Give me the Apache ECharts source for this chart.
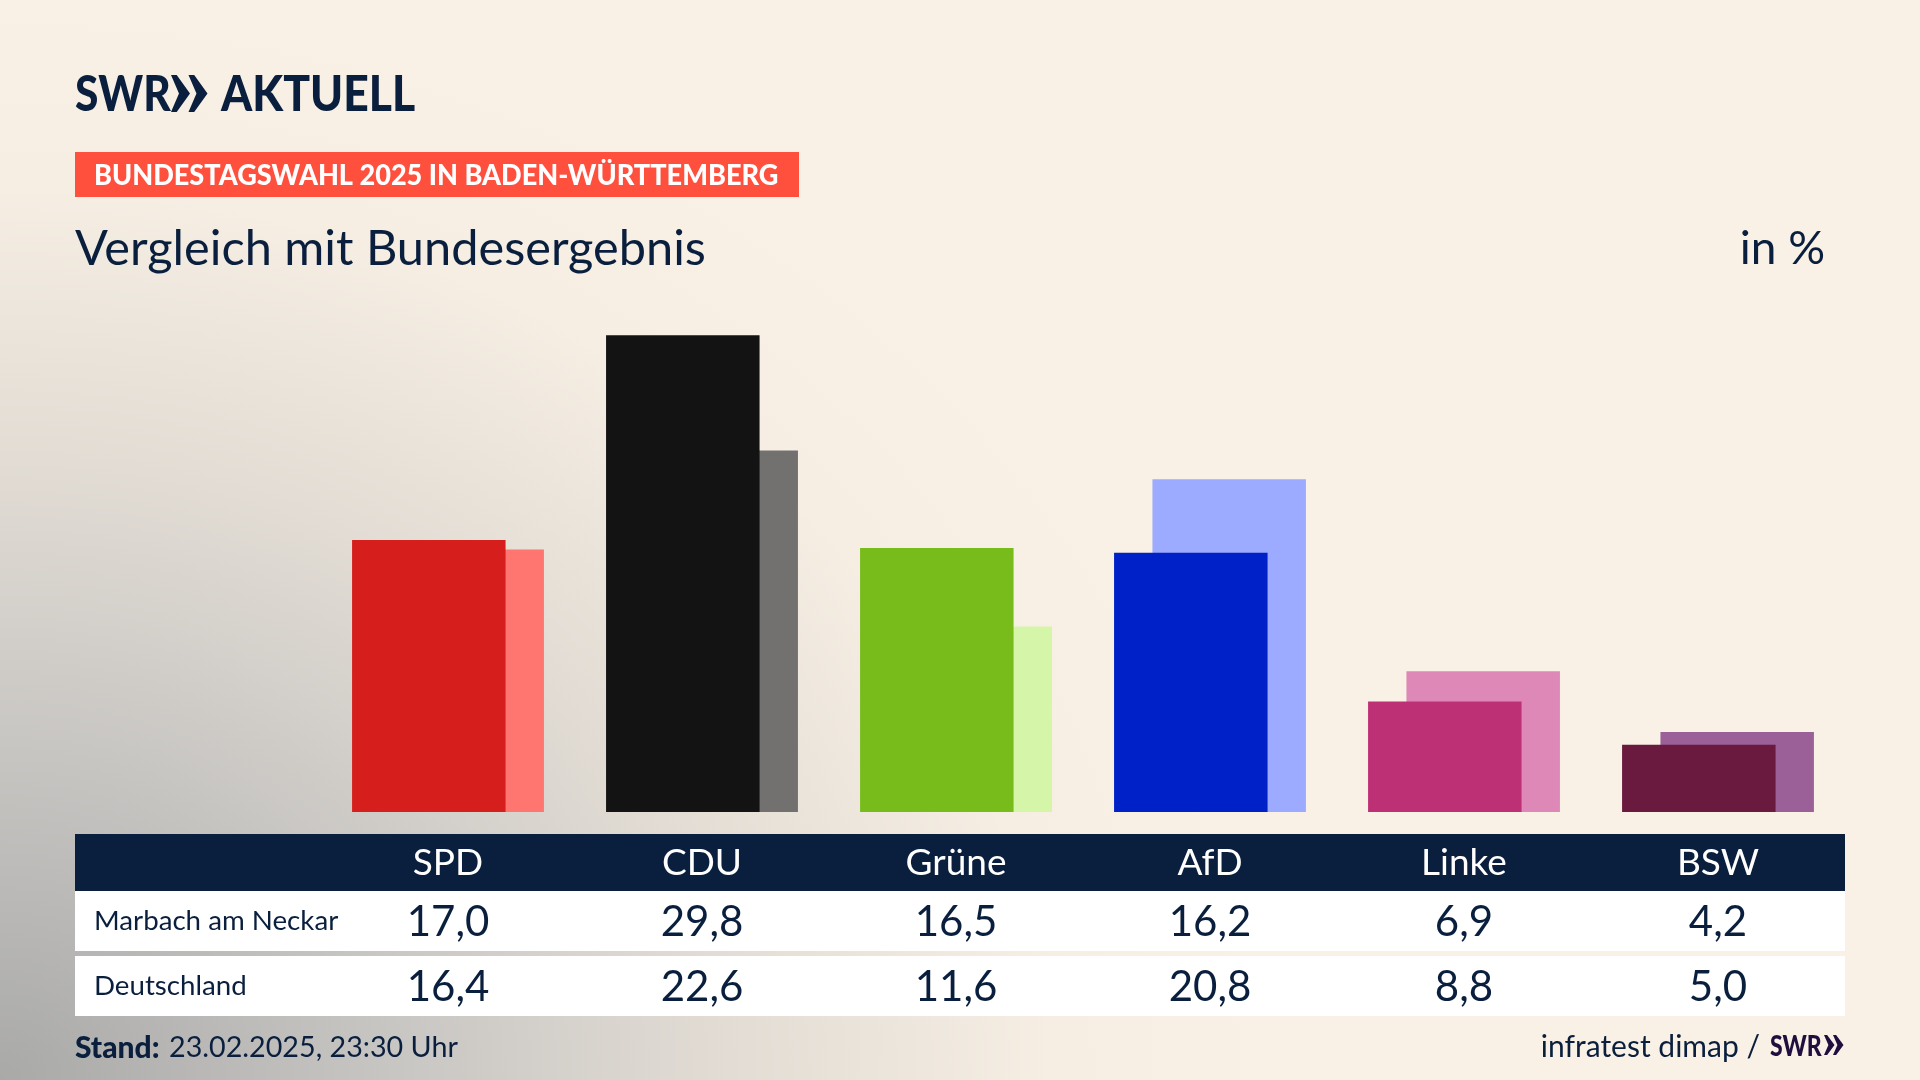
<!DOCTYPE html>
<html lang="de">
<head>
<meta charset="utf-8">
<title>Vergleich mit Bundesergebnis</title>
<style>
  html, body { margin: 0; padding: 0; width: 1920px; height: 1080px; overflow: hidden; }
  body {
    background-color: #faf1e6;
    background-image: radial-gradient(ellipse 1280px 1090px at 0 100%, #a9a9a8 0%, #c8c6c3 31%, #e2dcd4 57%, #f6eee3 82%, #faf1e6 100%);
  }
  #chart { width: 1920px; height: 1080px; }
</style>
<script src="https://cdn.jsdelivr.net/npm/echarts@6/dist/echarts.min.js"></script>
</head>
<body>
<div id="chart"></div>
<script>
const PARTIES = ['SPD', 'CDU', 'Grüne', 'AfD', 'Linke', 'BSW']
const LOCAL_VALUES = [17.0, 29.8, 16.5, 16.2, 6.9, 4.2]
const FEDERAL_VALUES = [16.4, 22.6, 11.6, 20.8, 8.8, 5.0]
const LOCAL_COLORS = ['#d61f1c', '#131313', '#78bc1b', '#0021c8', '#bd3075', '#6a1a3e']
const FEDERAL_COLORS = ['#ff7570', '#72716f', '#d5f5a9', '#9cabff', '#de88b8', '#9c6098']
const ROW_LABELS = ['Marbach am Neckar', 'Deutschland']

const NAVY = '#0a1f3d'
const FONT = 'Lato'

/** German decimal comma */
const formatValue = (value) => value.toFixed(1).replace('.', ',')

/** Bar data with a colour per party */
const colored = (values, colors) =>
  values.map((value, i) => ({ value, itemStyle: { color: colors[i] } }))

/** One row of the table, drawn as a hidden category axis under the bars */
const tableAxis = (data, margin, color, fontSize) => ({
  type: 'category',
  data,
  position: 'bottom',
  z: 10,
  axisLine: { show: false },
  axisTick: { show: false },
  axisLabel: {
    interval: 0,
    margin,
    color,
    fontSize,
    fontFamily: FONT,
    verticalAlign: 'middle'
  }
})

const text = (x, y, str, fontSize, opts = {}) => ({
  type: 'text',
  x,
  y,
  scaleX: opts.scaleX ?? 1,
  z: 5,
  style: {
    text: str,
    fill: opts.fill ?? NAVY,
    fontFamily: FONT,
    fontSize,
    fontWeight: opts.weight ?? 400,
    align: opts.align ?? 'left',
    verticalAlign: 'middle'
  }
})

const box = (x, y, width, height, fill) => ({
  type: 'rect',
  z: 1,
  shape: { x, y, width, height },
  style: { fill }
})

/** The two chevrons of the SWR logo */
const chevrons = (x, y, w, h, gap, fill) => [0, 1].map((n) => ({
  type: 'polygon',
  z: 5,
  shape: {
    points: [
      [x + n * gap, y],
      [x + n * gap + w * 0.3, y],
      [x + n * gap + w, y + h / 2],
      [x + n * gap + w * 0.3, y + h],
      [x + n * gap, y + h],
      [x + n * gap + w * 0.42, y + h / 2]
    ]
  },
  style: { fill }
}))

const chart = echarts.init(document.getElementById('chart'))

chart.setOption({
  animation: false,
  grid: { left: 321, width: 1524, top: 332, height: 480 },
  xAxis: [
    tableAxis(PARTIES, 51, '#ffffff', 37),
    tableAxis(LOCAL_VALUES.map(formatValue), 110, NAVY, 42),
    tableAxis(FEDERAL_VALUES.map(formatValue), 175, NAVY, 42)
  ],
  yAxis: { type: 'value', min: 0, max: 30, show: false },
  series: [
    {
      type: 'bar',
      name: ROW_LABELS[0],
      z: 3,
      barWidth: 153.5,
      barGap: '-75%',
      data: colored(LOCAL_VALUES, LOCAL_COLORS)
    },
    {
      type: 'bar',
      name: ROW_LABELS[1],
      z: 2,
      barWidth: 153.5,
      barGap: '-75%',
      data: colored(FEDERAL_VALUES, FEDERAL_COLORS)
    }
  ],
  graphic: [
    // logo
    text(75, 95, 'SWR', 50, { weight: 900, scaleX: 0.85 }),
    ...chevrons(171, 75, 19, 37, 17.5, NAVY),
    text(221, 95, 'AKTUELL', 50, { weight: 900, scaleX: 0.89 }),
    // headline
    box(75, 152, 724, 45, '#ff4f3d'),
    text(94, 176, 'BUNDESTAGSWAHL 2025 IN BADEN-WÜRTTEMBERG', 28, { weight: 900, fill: '#ffffff', scaleX: 0.968 }),
    text(75, 249, 'Vergleich mit Bundesergebnis', 48.7),
    text(1825, 249, 'in %', 46, { align: 'right' }),
    // table
    box(75, 834, 1770, 57, NAVY),
    box(75, 891, 1770, 60, '#ffffff'),
    box(75, 956, 1770, 60, '#ffffff'),
    text(94, 921, ROW_LABELS[0], 27.7),
    text(94, 986, ROW_LABELS[1], 27.7),
    // footer
    text(75, 1048, 'Stand:', 30, { weight: 900 }),
    text(169, 1048, '23.02.2025, 23:30 Uhr', 28.7),
    text(1760, 1047, 'infratest dimap /', 30, { align: 'right' }),
    text(1770, 1047, 'SWR', 28, { weight: 900, fill: '#1f0f3f', scaleX: 0.82 }),
    ...chevrons(1824, 1035, 10.5, 20, 9, '#1f0f3f')
  ]
})
</script>
</body>
</html>
